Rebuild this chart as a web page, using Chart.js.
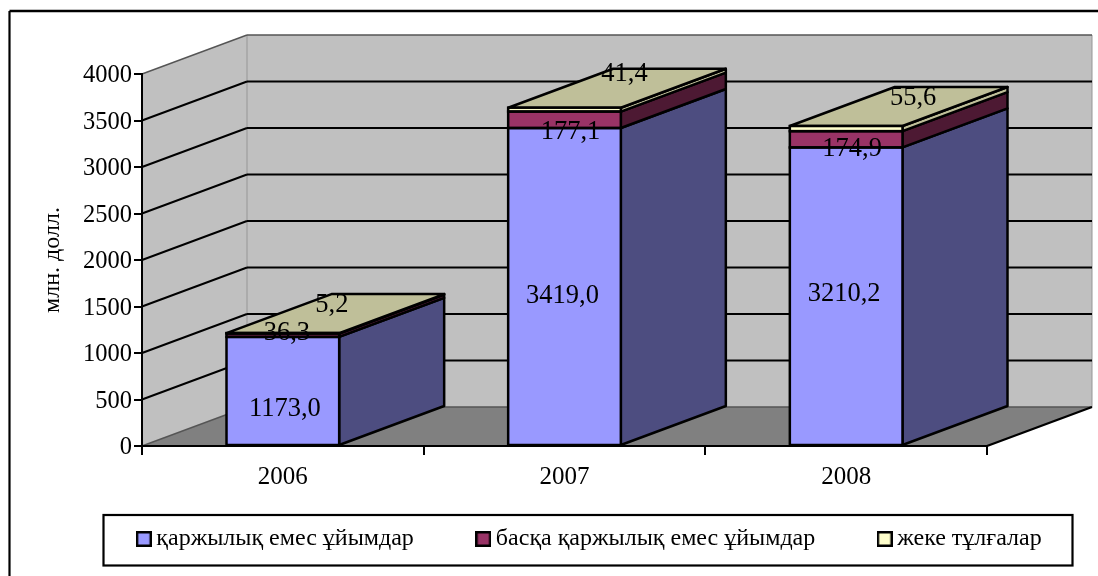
<!DOCTYPE html>
<html>
<head>
<meta charset="utf-8">
<style>html,body{margin:0;padding:0;background:#fff}#w{width:1098px;height:576px;position:relative}</style>
<script src="https://cdn.jsdelivr.net/npm/chart.js@4/dist/chart.umd.min.js"></script>
</head>
<body>
<div id="w"><canvas id="c" width="1098" height="576"></canvas></div>
<script>
const categories = ['2006', '2007', '2008'];
const nonFinancialOrgs = [1173.0, 3419.0, 3210.2];
const otherNonFinancialOrgs = [36.3, 177.1, 174.9];
const individuals = [5.2, 41.4, 55.6];
const seriesNames = ['қаржылық емес ұйымдар', 'басқа қаржылық емес ұйымдар', 'жеке тұлғалар'];
const axisTitle = 'млн. долл.';

const frontColors = ['#9999FF', '#993366', '#FFFFCC'];
const sideColors = ['#4D4D80', '#4D1933', '#BFBF99'];
const topColor = '#BFBF99';
const DEPTH_X = 105, DEPTH_Y = -39;
const FONT = '"Liberation Serif", "Times New Roman", serif';

// label nudges relative to the segment centre (series 0,1) or segment top (series 2)
const labelNudges = [
  [[2, 18], [-2, 10], [-2, -2]],
  [[4, -2], [6, 12], [6, 10]],
  [[49, -28], [60, -34], [67, -28]]
];

function marker(color) {
  const c = document.createElement('canvas');
  c.width = 16; c.height = 16;
  const x = c.getContext('2d');
  x.fillStyle = color; x.strokeStyle = '#000'; x.lineWidth = 2.4;
  x.beginPath(); x.rect(1.2, 1.2, 13.6, 13.6); x.fill(); x.stroke();
  return c;
}
const markers = frontColors.map(marker);

function poly(ctx, pts, fill, stroke, lw) {
  ctx.beginPath();
  pts.forEach((p, i) => i ? ctx.lineTo(p[0], p[1]) : ctx.moveTo(p[0], p[1]));
  ctx.closePath();
  if (fill) { ctx.fillStyle = fill; ctx.fill(); }
  if (stroke) { ctx.strokeStyle = stroke; ctx.lineWidth = lw; ctx.lineJoin = 'round'; ctx.stroke(); }
}
function seg(ctx, x1, y1, x2, y2, color, lw) {
  ctx.beginPath(); ctx.moveTo(x1, y1); ctx.lineTo(x2, y2);
  ctx.strokeStyle = color; ctx.lineWidth = lw; ctx.stroke();
}

const scene3d = {
  id: 'scene3d',
  beforeLayout(chart) {
    const l = chart.legend;
    if (!l._patched) {
      const fit = l.fit;
      l.fit = function () {
        const m = this.maxWidth;
        this.maxWidth = 3000;
        fit.call(this);
        this.maxWidth = m;
        this.height = 60;
      };
      l._patched = true;
    }
  },
  afterLayout(chart) {
    const l = chart.legend;
    const pad = l.options.labels.padding;
    l.left = 43; l.right = 1142;
    l.top = 527 - pad;
  },
  beforeDraw(chart) {
    const ctx = chart.ctx, a = chart.chartArea, y = chart.scales.y;
    ctx.save();
    // outer chart frame and legend box
    seg(ctx, 9.5, 11, 1098, 11, '#000', 2.6);
    seg(ctx, 9.5, 11, 9.5, 576, '#000', 2.2);
    ctx.strokeStyle = '#000'; ctx.lineWidth = 2.2;
    ctx.strokeRect(103.5, 515, 969, 50.5);
    // walls and floor
    const L = a.left, R = a.right, T = a.top, B = a.bottom;
    poly(ctx, [[L, B], [L + DEPTH_X, B + DEPTH_Y], [R + DEPTH_X, B + DEPTH_Y], [R, B]], '#808080');
    poly(ctx, [[L, T], [L + DEPTH_X, T + DEPTH_Y], [L + DEPTH_X, B + DEPTH_Y], [L, B]], '#C0C0C0');
    poly(ctx, [[L + DEPTH_X, T + DEPTH_Y], [R + DEPTH_X, T + DEPTH_Y], [R + DEPTH_X, B + DEPTH_Y], [L + DEPTH_X, B + DEPTH_Y]], '#C0C0C0');
    // wall edges
    seg(ctx, L + DEPTH_X, T + DEPTH_Y, L + DEPTH_X, B + DEPTH_Y, '#969696', 1);
    seg(ctx, R + DEPTH_X, T + DEPTH_Y, R + DEPTH_X, B + DEPTH_Y, '#969696', 1);
    // gridlines from the value axis ticks
    y.ticks.forEach(t => {
      const py = y.getPixelForValue(t.value);
      const edge = t.value === y.min || t.value === y.max;
      const col = edge ? '#555' : '#000', lw = edge ? 1.4 : 2;
      seg(ctx, L, py, L + DEPTH_X, py + DEPTH_Y, col, lw);
      seg(ctx, L + DEPTH_X, py + DEPTH_Y, R + DEPTH_X, py + DEPTH_Y, col, lw);
    });
    seg(ctx, R, B, R + DEPTH_X, B + DEPTH_Y, '#000', 2.4);
    ctx.restore();
  },
  beforeDatasetsDraw(chart) {
    const ctx = chart.ctx;
    ctx.save();
    chart.data.datasets.forEach((ds, i) => {
      chart.getDatasetMeta(i).data.forEach(el => {
        const r = el.x + el.width / 2, l = el.x - el.width / 2;
        poly(ctx, [[r, el.base], [r + DEPTH_X, el.base + DEPTH_Y], [r + DEPTH_X, el.y + DEPTH_Y], [r, el.y]], sideColors[i], '#000', 2.5);
        if (i === chart.data.datasets.length - 1) {
          poly(ctx, [[l, el.y], [l + DEPTH_X, el.y + DEPTH_Y], [r + DEPTH_X, el.y + DEPTH_Y], [r, el.y]], topColor, '#000', 2.5);
        }
      });
    });
    ctx.restore();
  },
  afterDatasetsDraw(chart) {
    const ctx = chart.ctx;
    ctx.save();
    // outlines centred on the bar edges, so thin segments stay visible
    chart.data.datasets.forEach((ds, i) => {
      chart.getDatasetMeta(i).data.forEach(el => {
        ctx.strokeStyle = '#000'; ctx.lineWidth = 2.5;
        ctx.strokeRect(el.x - el.width / 2, el.y, el.width, el.base - el.y);
      });
    });
    ctx.font = '26.5px ' + FONT;
    ctx.fillStyle = '#000';
    ctx.textAlign = 'center';
    ctx.textBaseline = 'middle';
    chart.data.datasets.forEach((ds, i) => {
      chart.getDatasetMeta(i).data.forEach((el, j) => {
        const n = labelNudges[i][j];
        const anchor = i === 2 ? el.y : (el.y + el.base) / 2;
        ctx.fillText(ds.data[j].toFixed(1).replace('.', ','), el.x + n[0], anchor + n[1]);
      });
    });
    ctx.restore();
  }
};

new Chart(document.getElementById('c'), {
  type: 'bar',
  data: {
    labels: categories,
    datasets: [nonFinancialOrgs, otherNonFinancialOrgs, individuals].map((values, i) => ({
      label: seriesNames[i],
      data: values,
      backgroundColor: frontColors[i],
      borderWidth: 0,
      barPercentage: 0.4,
      categoryPercentage: 1
    }))
  },
  options: {
    responsive: false,
    animation: false,
    layout: { padding: { left: 0, top: 74, right: 111, bottom: 10 } },
    scales: {
      x: {
        stacked: true,
        afterFit(s) { s.height = 60; },
        border: { color: '#000', width: 2 },
        grid: { display: true, drawOnChartArea: false, color: '#000', lineWidth: 2, tickLength: 9 },
        ticks: { color: '#000', font: { family: FONT, size: 25 }, padding: 7, maxRotation: 0 }
      },
      y: {
        stacked: true,
        min: 0, max: 4000,
        afterFit(s) { s.width = 142; },
        border: { color: '#000', width: 2 },
        grid: { display: true, drawOnChartArea: false, color: '#000', lineWidth: 2, tickLength: 8 },
        ticks: { color: '#000', stepSize: 500, font: { family: FONT, size: 24.5 }, padding: 2, labelOffset: 2, callback: v => String(v) },
        title: { display: true, text: axisTitle, color: '#000', font: { family: FONT, size: 24 }, padding: { top: 38, bottom: 0 } }
      }
    },
    plugins: {
      tooltip: { enabled: false },
      legend: {
        display: true,
        position: 'bottom',
        labels: {
          color: '#000',
          font: { family: FONT, size: 24 },
          usePointStyle: true,
          boxWidth: 1,
          boxHeight: 16,
          padding: 69,
          generateLabels: () => seriesNames.map((t, i) => ({
            text: t, pointStyle: markers[i], fillStyle: frontColors[i], strokeStyle: '#000',
            lineWidth: 0, hidden: false, datasetIndex: i, fontColor: '#000'
          }))
        }
      }
    }
  },
  plugins: [scene3d]
});
</script>
</body>
</html>
